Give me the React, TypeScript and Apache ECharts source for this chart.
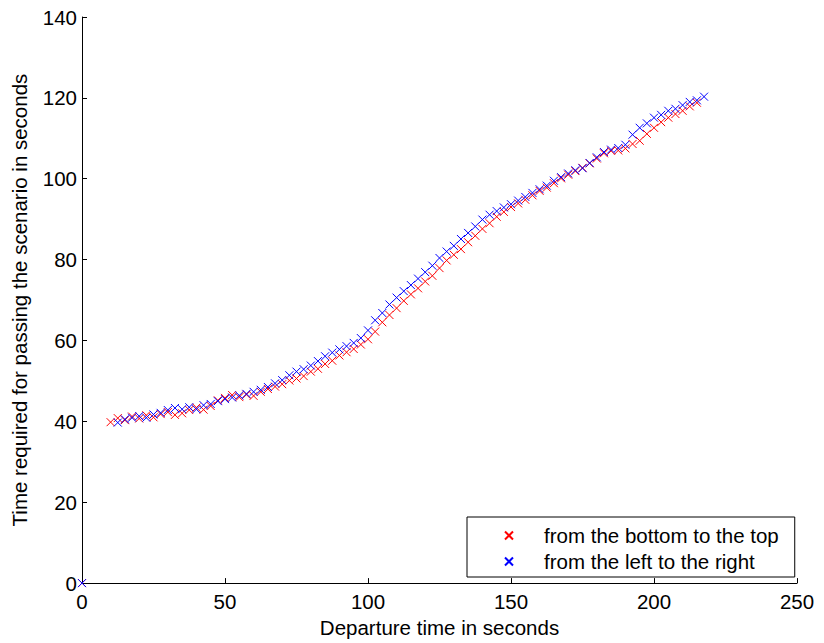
import React, { useEffect, useRef } from "react";
import * as echarts from "echarts";

const redX = [0, 10, 12.5, 15, 17.5, 20, 22.5, 25, 27.5, 30, 32.5, 35, 37.5, 40, 42.5, 45, 47.5, 50, 52.5, 55, 57.5, 60, 62.5, 65, 67.5, 70, 72.5, 75, 77.5, 80, 82.5, 85, 87.5, 90, 92.5, 95, 97.5, 100, 102.5, 105, 107.5, 110, 112.5, 115, 117.5, 120, 122.5, 125, 127.5, 130, 132.5, 135, 137.5, 140, 142.5, 145, 147.5, 150, 152.5, 155, 157.5, 160, 162.5, 165, 167.5, 170, 172.5, 175, 177.5, 180, 182.5, 185, 187.5, 190, 192.5, 195, 197.5, 200, 202.5, 205, 207.5, 210, 212.5, 215];
const redY = [0, 39.8, 40.8, 40.3, 41.2, 40.7, 41.5, 41.0, 41.8, 42.3, 41.6, 42.0, 42.8, 43.4, 42.9, 43.8, 45.2, 45.8, 46.5, 46.0, 46.6, 46.3, 47.3, 48.0, 48.6, 49.2, 50.1, 50.6, 51.2, 52.3, 53.0, 54.2, 55.0, 56.3, 57.1, 57.9, 59.0, 60.3, 62.2, 64.5, 66.3, 68.0, 69.8, 71.4, 72.9, 74.6, 76.0, 77.9, 79.8, 81.2, 82.6, 84.3, 85.9, 87.6, 89.0, 90.6, 91.8, 93.0, 93.9, 94.8, 95.9, 97.0, 97.8, 98.9, 100.1, 101.0, 101.9, 102.7, 103.8, 105.0, 106.3, 106.9, 107.0, 107.5, 108.6, 109.4, 111.1, 112.6, 114.0, 115.1, 116.0, 116.8, 117.9, 118.8];

const blueX = [0, 12.5, 15, 17.5, 20, 22.5, 25, 27.5, 30, 32.5, 35, 37.5, 40, 42.5, 45, 47.5, 50, 52.5, 55, 57.5, 60, 62.5, 65, 67.5, 70, 72.5, 75, 77.5, 80, 82.5, 85, 87.5, 90, 92.5, 95, 97.5, 100, 102.5, 105, 107.5, 110, 112.5, 115, 117.5, 120, 122.5, 125, 127.5, 130, 132.5, 135, 137.5, 140, 142.5, 145, 147.5, 150, 152.5, 155, 157.5, 160, 162.5, 165, 167.5, 170, 172.5, 175, 177.5, 180, 182.5, 185, 187.5, 190, 192.5, 195, 197.5, 200, 202.5, 205, 207.5, 210, 212.5, 215, 217.5];
const blueY = [0, 39.7, 40.5, 40.9, 41.3, 40.9, 41.7, 42.1, 42.8, 43.3, 43.0, 43.5, 43.0, 44.0, 44.3, 45.0, 45.5, 45.9, 46.4, 46.8, 47.3, 47.8, 48.5, 49.4, 50.2, 51.4, 52.3, 52.9, 53.8, 54.9, 56.1, 57.0, 57.8, 58.6, 59.4, 60.6, 62.5, 65.0, 66.8, 68.9, 70.6, 72.2, 73.7, 75.3, 76.9, 78.5, 80.4, 82.0, 83.4, 85.1, 86.6, 88.2, 89.9, 91.1, 92.0, 92.9, 93.7, 94.6, 95.5, 96.5, 97.4, 98.3, 99.5, 100.4, 101.3, 102.1, 102.6, 103.9, 105.3, 106.6, 107.2, 107.6, 108.4, 110.9, 112.6, 113.7, 115.1, 115.8, 116.8, 117.3, 118.2, 119.0, 119.4, 120.3];

const seriesNames = ["from the bottom to the top", "from the left to the right"];
const xTitle = "Departure time in seconds";
const yTitle = "Time required for passing the scenario in seconds";

const FONT = "'Liberation Sans', Arial, Helvetica, sans-serif";
const FS = 20.5;
const CROSS = "path://M0,0L10,10M10,0L0,10";

export default function App() {
  const ref = useRef<HTMLDivElement>(null);
  useEffect(() => {
    if (!ref.current) return;
    const chart = echarts.init(ref.current, null, { renderer: "svg" });
    const pair = (xs: number[], ys: number[]) => xs.map((x, i) => [x, ys[i]]);
    const axisCommon = {
      axisLine: { show: true, onZero: false, lineStyle: { color: "#000", width: 1 } },
      axisTick: { show: true, inside: true, length: 5, lineStyle: { color: "#000" } },
      axisLabel: { color: "#000", fontSize: FS, fontFamily: FONT },
      splitLine: { show: false },
      nameTextStyle: { color: "#000", fontSize: FS, fontFamily: FONT },
      nameLocation: "middle" as const,
    };
    chart.setOption({
      animation: false,
      backgroundColor: "#fff",
      textStyle: { fontFamily: FONT },
      grid: { left: 82, right: 27, top: 17, bottom: 56, containLabel: false },
      xAxis: {
        type: "value",
        min: 0,
        max: 250,
        interval: 50,
        name: xTitle,
        nameGap: 32,
        ...axisCommon,
        axisLabel: { ...axisCommon.axisLabel, margin: 8 },
      },
      yAxis: {
        type: "value",
        min: 0,
        max: 140,
        interval: 20,
        name: yTitle,
        nameGap: 52,
        ...axisCommon,
        axisLabel: { ...axisCommon.axisLabel, margin: 5 },
      },
      legend: {
        orient: "vertical",
        left: 467,
        top: 517,
        padding: [8, 16, 5, 37],
        itemWidth: 60,
        itemHeight: 8,
        itemGap: 5,
        backgroundColor: "#fff",
        borderColor: "#000",
        borderWidth: 1,
        borderRadius: 0,
        textStyle: { color: "#000", fontSize: FS, fontFamily: FONT, lineHeight: 20 },
        data: [
          { name: seriesNames[0], icon: CROSS },
          { name: seriesNames[1], icon: CROSS },
        ],
      },
      series: [
        {
          name: seriesNames[0],
          type: "scatter",
          symbol: CROSS,
          symbolSize: 8,
          itemStyle: { color: "transparent", borderColor: "#ff0000", borderWidth: 1, opacity: 1 },
          data: pair(redX, redY),
        },
        {
          name: seriesNames[1],
          type: "scatter",
          symbol: CROSS,
          symbolSize: 8,
          itemStyle: { color: "transparent", borderColor: "#0000ff", borderWidth: 1, opacity: 1 },
          data: pair(blueX, blueY),
        },
      ],
    });
    return () => chart.dispose();
  }, []);
  return <div ref={ref} style={{ width: 824, height: 643, position: "absolute", left: 0, top: 0 }} />;
}
